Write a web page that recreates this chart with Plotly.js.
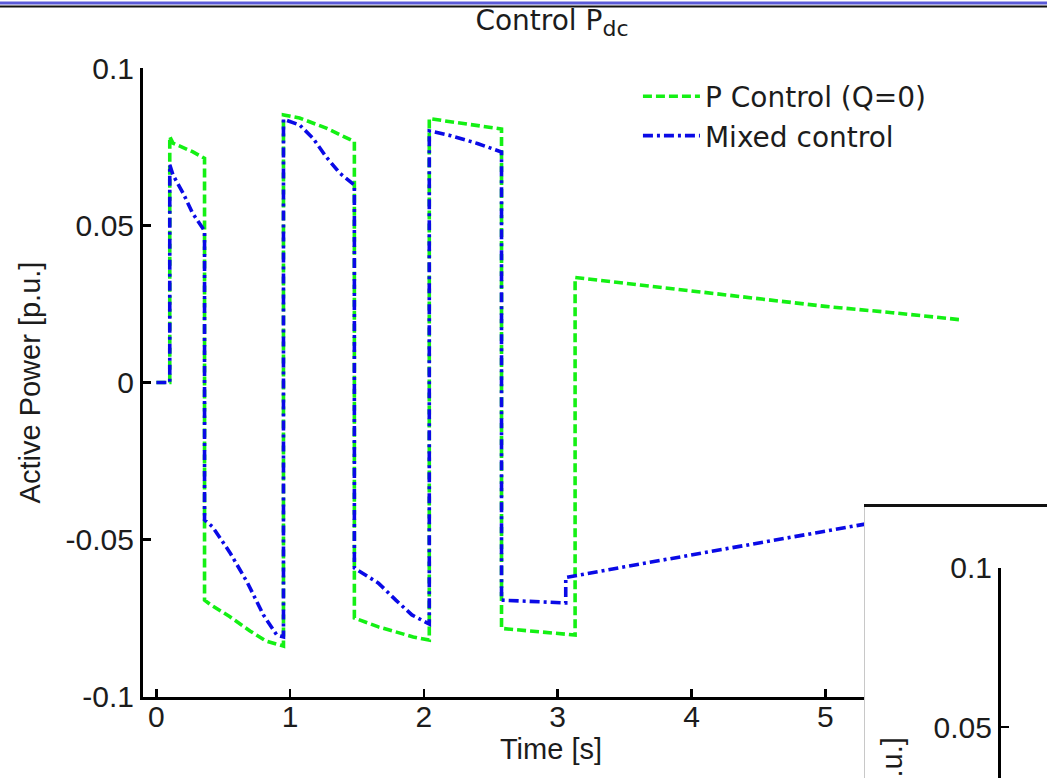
<!DOCTYPE html>
<html>
<head>
<meta charset="utf-8">
<script src="https://cdn.plot.ly/plotly-3.0.1.min.js"></script>
<style>
  html, body { margin: 0; padding: 0; background: #ffffff; }
  #chart { width: 1047px; height: 778px; }
</style>
</head>
<body>
<div id="chart"></div>
<script>
// ---- data ----
const timeP = [0, 0.10, 0.10, 0.124, 0.27, 0.36, 0.36, 0.40, 0.55, 0.70, 0.82, 0.95, 0.95, 1.07, 1.27, 1.37, 1.48, 1.48, 1.66, 1.92, 2.04, 2.04, 2.2, 2.4, 2.58, 2.58, 3.13, 3.13, 3.5, 4.0, 4.5, 5.0, 5.5, 6.0];
const powerP = [0, 0, 0.0782, 0.0761, 0.0734, 0.0713, -0.0692, -0.0705, -0.0745, -0.0790, -0.0822, -0.0838, 0.0851, 0.0841, 0.0809, 0.0787, 0.0766, -0.0749, -0.0777, -0.0809, -0.0819, 0.0839, 0.0830, 0.0818, 0.0806, -0.0782, -0.0803, 0.0334, 0.0316, 0.0290, 0.0265, 0.0242, 0.0222, 0.0200];

const timeMixed = [0, 0.10, 0.10, 0.124, 0.20, 0.27, 0.36, 0.36, 0.42, 0.55, 0.68, 0.80, 0.90, 0.95, 0.95, 1.07, 1.17, 1.27, 1.37, 1.48, 1.48, 1.66, 1.79, 1.91, 2.04, 2.04, 2.2, 2.4, 2.58, 2.58, 3.06, 3.06, 3.5, 4.0, 4.5, 5.0, 5.5, 6.0];
const powerMixed = [0, 0, 0.0692, 0.0660, 0.0602, 0.0539, 0.0482, -0.0437, -0.0459, -0.0541, -0.0636, -0.0739, -0.0803, -0.0809, 0.0837, 0.0819, 0.0777, 0.0717, 0.0666, 0.0628, -0.0590, -0.0638, -0.0692, -0.0739, -0.0768, 0.0800, 0.0785, 0.0760, 0.0733, -0.0692, -0.0701, -0.0620, -0.0586, -0.0548, -0.0510, -0.0472, -0.0435, -0.0400];

const seriesNames = ['P Control (Q=0)', 'Mixed control'];
const xTickVals = [0, 1, 2, 3, 4, 5];
const xTickText = ['0', '1', '2', '3', '4', '5'];
const yTickVals = [-0.1, -0.05, 0, 0.05, 0.1];
const yTickText = ['-0.1', '-0.05', '0', '0.05', '0.1'];
const insetTickVals = [0.05, 0.1];
const insetTickText = ['0.05', '0.1'];

const FONT = '"Liberation Sans", Arial, Helvetica, sans-serif';
const WIDEFONT = '"DejaVu Sans", "Liberation Sans", Arial, sans-serif';
const TXT = '#1c1c1c';

const traces = [
  {
    x: timeP, y: powerP, name: seriesNames[0], type: 'scatter', mode: 'lines',
    line: { color: '#14f014', width: 3.6, dash: '9px,4px' },
    xaxis: 'x', yaxis: 'y', hoverinfo: 'skip'
  },
  {
    x: timeMixed, y: powerMixed, name: seriesNames[1], type: 'scatter', mode: 'lines',
    line: { color: '#0a0ae6', width: 3.6, dash: '10px,4px,3px,4px' },
    xaxis: 'x', yaxis: 'y', hoverinfo: 'skip'
  },
  // empty traces only so that the inset panels (white box + its axis) exist
  { x: [], y: [], type: 'scatter', mode: 'lines', xaxis: 'x2', yaxis: 'y2', showlegend: false, hoverinfo: 'skip' },
  { x: [], y: [], type: 'scatter', mode: 'lines', xaxis: 'x3', yaxis: 'y3', showlegend: false, hoverinfo: 'skip' }
];

const axisCommon = {
  showgrid: false, zeroline: false, showline: true, linecolor: '#000', linewidth: 3,
  ticks: 'inside', ticklen: 8, tickwidth: 2.5, tickcolor: '#000',
  tickfont: { family: FONT, size: 30, color: TXT }, fixedrange: true
};

const layout = {
  width: 1047, height: 778,
  margin: { l: 143, r: 0, t: 68, b: 0 },
  paper_bgcolor: '#ffffff', plot_bgcolor: '#ffffff',
  font: { family: FONT, color: TXT },
  showlegend: true,
  title: {
    text: 'Control P<sub><span style="font-size:22px">dc</span></sub>',
    font: { family: WIDEFONT, size: 28, color: TXT },
    xref: 'container', yref: 'container', x: 0.5272, xanchor: 'center', y: 0.986, yanchor: 'top'
  },
  xaxis: Object.assign({}, axisCommon, {
    domain: [0, 0.9027], range: [-0.1, 6], anchor: 'y',
    tickmode: 'array', tickvals: xTickVals, ticktext: xTickText, ticklabelstandoff: -9,
    title: { text: 'Time [s]', standoff: 7, font: { family: FONT, size: 29, color: TXT } }
  }),
  yaxis: Object.assign({}, axisCommon, {
    domain: [0.1141, 1], range: [-0.1, 0.1], anchor: 'x',
    tickmode: 'array', tickvals: yTickVals, ticktext: yTickText,
    title: { text: 'Active Power [p.u.]', standoff: 17, font: { family: FONT, size: 29, color: TXT } }
  }),
  // inset (white box of the neighbouring figure)
  xaxis2: {
    domain: [0.7987, 1], anchor: 'y2', side: 'top', range: [0, 1],
    showline: true, linecolor: '#111', linewidth: 3, showticklabels: false, ticks: '',
    showgrid: false, zeroline: false, fixedrange: true
  },
  yaxis2: {
    domain: [0, 0.3817], anchor: 'x2', range: [0, 1],
    showline: true, linecolor: '#c8c8c8', linewidth: 1, showticklabels: false, ticks: '',
    showgrid: false, zeroline: false, fixedrange: true
  },
  xaxis3: {
    domain: [0.9491, 1], anchor: 'y3', range: [0, 1],
    showline: false, showticklabels: false, ticks: '', showgrid: false, zeroline: false, fixedrange: true
  },
  yaxis3: Object.assign({}, axisCommon, {
    domain: [0, 0.2958], anchor: 'x3', range: [0.034, 0.1],
    tickmode: 'array', tickvals: insetTickVals, ticktext: insetTickText
  }),
  legend: {
    x: 0.5475, xanchor: 'left', y: 0.995, yanchor: 'top',
    bgcolor: 'rgba(0,0,0,0)', borderwidth: 0, itemwidth: 57,
    font: { family: WIDEFONT, size: 28, color: TXT }, tracegroupgap: 0
  },
  annotations: [
    {
      text: 'Active Power [p.u.]', xref: 'paper', yref: 'paper', x: 0.8285, y: 0.0606,
      xanchor: 'center', yanchor: 'top', textangle: -90, showarrow: false,
      font: { family: FONT, size: 29, color: TXT }
    }
  ],
  shapes: [
    { type: 'line', xref: 'paper', yref: 'paper', x0: -0.1582, x1: 1, y0: 1.0915, y1: 1.0915,
      line: { color: '#5a5ad8', width: 3 }, layer: 'above' },
    { type: 'line', xref: 'paper', yref: 'paper', x0: -0.1582, x1: 1, y0: 1.0866, y1: 1.0866,
      line: { color: '#111', width: 2 }, layer: 'above' }
  ]
};

Plotly.newPlot('chart', traces, layout, { displayModeBar: false, staticPlot: true });
</script>
</body>
</html>
